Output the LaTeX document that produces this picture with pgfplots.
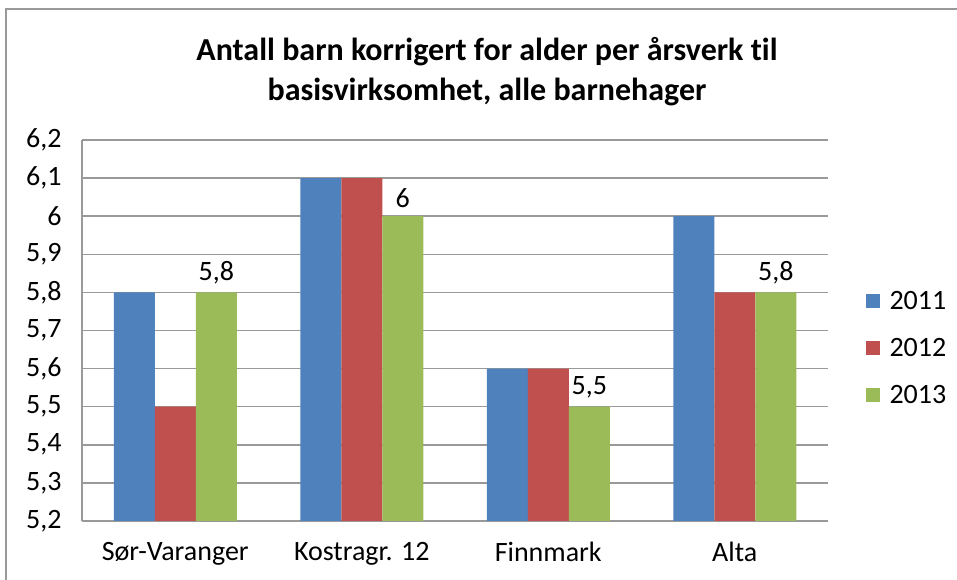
\documentclass[border=0pt]{standalone}
\usepackage{fontspec}
\setmainfont{Carlito}[Ligatures=NoCommon]
\usepackage{pgfplots}
\pgfplotsset{compat=1.18}
\definecolor{cblue}{HTML}{4F81BD}
\definecolor{cred}{HTML}{C0504D}
\definecolor{cgreen}{HTML}{9BBB59}
\definecolor{cgrid}{HTML}{999999}

\begin{document}
\begin{tikzpicture}[x=1pt,y=1pt]
\path[use as bounding box] (0,0) rectangle (957,580);
\draw[cgrid, line width=1.5pt] (6,-3) -- (6,571) -- (960,571);
\node[font=\fontsize{32}{40}\selectfont\bfseries, align=center] at (487,508)
  {Antall barn korrigert for alder per årsverk til\\basisvirksomhet, alle barnehager};
\begin{axis}[
  at={(82pt,59pt)}, anchor=south west,
  scale only axis, width=746pt, height=381pt,
  ybar=0pt, bar width=41pt,
  xmin=-0.5, xmax=3.5, ymin=5.2, ymax=6.2,
  xtick={0,1,2,3},
  xticklabels={Sør-Varanger,Kostragr. 12,Finnmark,Alta},
  ytick={5.2,5.3,5.4,5.5,5.6,5.7,5.8,5.9,6.0,6.1,6.2},
  axis x line*=bottom, axis y line*=left,
  axis line style={cgrid, line width=1.5pt, -},
  ymajorgrids, grid style={cgrid, line width=1.5pt},
  major tick length=0pt,
  ticklabel style={font=\fontsize{28}{34}\selectfont},
  yticklabel style={xshift=-17pt},
  xticklabel style={yshift=-18pt},
  /pgf/number format/.cd, use comma, fixed, precision=1, assume math mode=true,
  /pgfplots/.cd,
  legend style={at={(1.046,0.454)}, anchor=west, draw=none, fill=none,
    font=\fontsize{28}{34}\selectfont, row sep=23pt, column sep=8pt},
  legend cell align=left,
  legend image code/.code={\fill[#1] (0pt,-7pt) rectangle (14pt,7pt);},
]
\addplot[fill=cblue, draw=none] coordinates {(0,5.8) (1,6.1) (2,5.6) (3,6.0)};
\addplot[fill=cred, draw=none] coordinates {(0,5.5) (1,6.1) (2,5.6) (3,5.8)};
\addplot[fill=cgreen, draw=none,
  nodes near coords, nodes near coords align={vertical},
  every node near coord/.append style={font=\fontsize{28}{34}\selectfont, yshift=5pt}]
  coordinates {(0,5.8) (1,6.0) (2,5.5) (3,5.8)};
\legend{2011,2012,2013}
\end{axis}
\end{tikzpicture}
\end{document}
